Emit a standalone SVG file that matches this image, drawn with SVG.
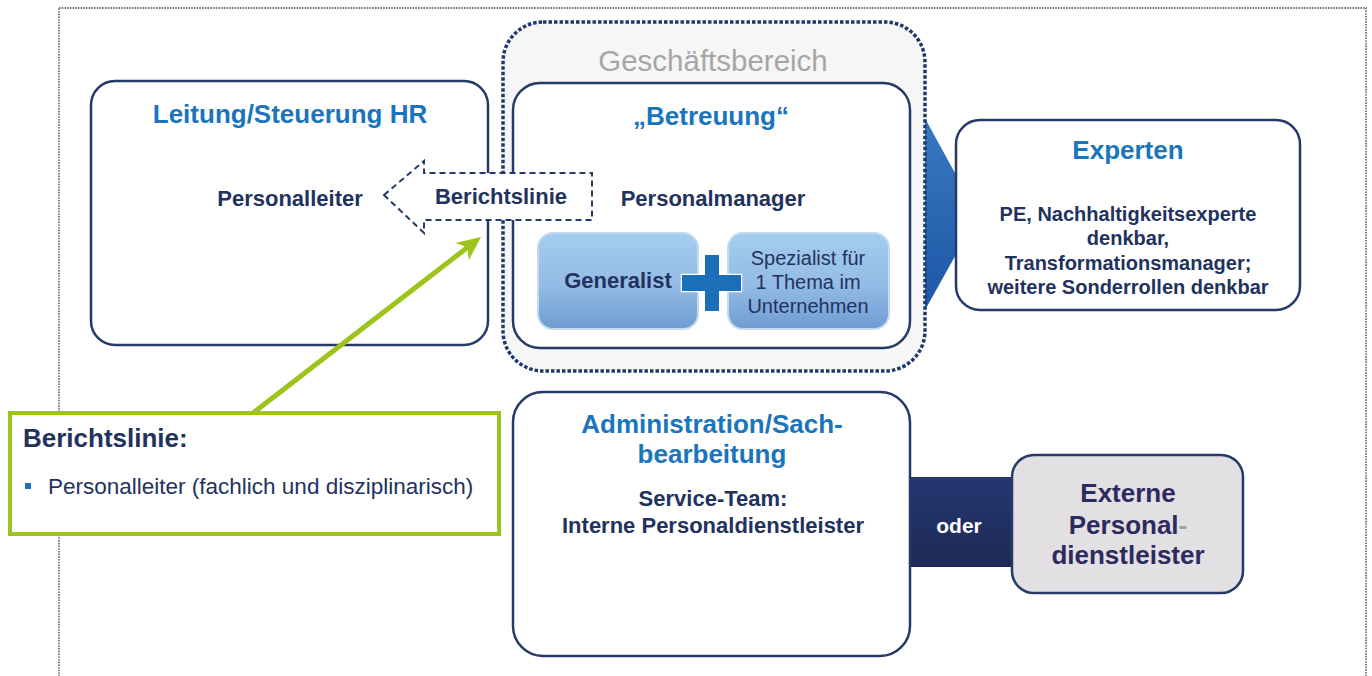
<svg xmlns="http://www.w3.org/2000/svg" width="1372" height="676" viewBox="0 0 1372 676">
  <defs>
    <linearGradient id="gradChevron" x1="0" y1="0" x2="0" y2="1">
      <stop offset="0" stop-color="#3d7bc4"/>
      <stop offset="1" stop-color="#1a53a3"/>
    </linearGradient>
    <linearGradient id="gradTile" x1="0" y1="0" x2="0" y2="1">
      <stop offset="0" stop-color="#a5cdee"/>
      <stop offset="0.55" stop-color="#93bbe6"/>
      <stop offset="1" stop-color="#6f9bd0"/>
    </linearGradient>
    <linearGradient id="gradBand" x1="0" y1="0" x2="0" y2="1">
      <stop offset="0" stop-color="#243771"/>
      <stop offset="1" stop-color="#1e2a55"/>
    </linearGradient>
    <style>
      text { font-family: "Liberation Sans", Arial, sans-serif; }
      .box { fill: #ffffff; stroke: #253a66; stroke-width: 2.5; }
      .title { font-size: 26px; font-weight: bold; fill: #1a75bd; text-anchor: middle; }
      .label { font-size: 22px; font-weight: bold; fill: #22325e; text-anchor: middle; }
      .body { font-size: 20px; font-weight: bold; fill: #22325e; text-anchor: middle; }
      .tile { fill: url(#gradTile); stroke: #c2dbf2; stroke-width: 2; }
    </style>
  </defs>

  <!-- outer frame -->
  <rect x="59" y="8" width="1307" height="700" fill="none" stroke="#7a7a7a" stroke-width="1.8" stroke-dasharray="1.6 1.1"/>

  <g id="connectors">
    <!-- chevron from the business unit to the experts -->
    <polygon points="915,100 978,215 915,328" fill="url(#gradChevron)"/>
    <!-- band linking administration and external providers -->
    <rect x="905" y="477" width="115" height="90" fill="url(#gradBand)"/>
    <text x="959" y="533" font-size="21" font-weight="bold" fill="#ffffff" text-anchor="middle">oder</text>
  </g>

  <g id="leitung">
    <rect class="box" x="91" y="81" width="397" height="264" rx="24"/>
    <text class="title" x="290" y="123">Leitung/Steuerung HR</text>
    <text class="label" x="290" y="206">Personalleiter</text>
  </g>

  <g id="geschaeftsbereich">
    <rect x="503" y="22" width="422" height="349" rx="40" fill="#f6f6f6" stroke="#1f3a6a" stroke-width="3.5" stroke-dasharray="3.5 2"/>
    <text x="713" y="71" font-size="29.5" fill="#a6a6a6" text-anchor="middle">Geschäftsbereich</text>
  </g>

  <g id="betreuung">
    <rect class="box" x="513" y="83" width="397" height="265" rx="27"/>
    <text class="title" x="711" y="125">„Betreuung“</text>
    <text class="label" x="713" y="206">Personalmanager</text>
  </g>

  <g id="generalist">
    <rect class="tile" x="538" y="233" width="160" height="96" rx="15"/>
    <text class="label" x="618" y="288">Generalist</text>
  </g>

  <g id="spezialist">
    <rect class="tile" x="728" y="233" width="161" height="96" rx="15"/>
    <text x="808" y="265" font-size="20" fill="#22325e" text-anchor="middle">Spezialist für</text>
    <text x="808" y="289" font-size="20" fill="#22325e" text-anchor="middle">1 Thema im</text>
    <text x="808" y="313" font-size="20" fill="#22325e" text-anchor="middle">Unternehmen</text>
  </g>

  <g id="plus">
    <path d="M705,255 H719 V275 H741 V291 H719 V311 H705 V291 H682 V275 H705 Z" fill="#1a6fb8" stroke="#ffffff" stroke-width="2.5" paint-order="stroke"/>
  </g>

  <g id="berichtslinie-pfeil">
    <polygon points="384,195 424,161 424,173 592,173 592,220 424,220 424,233" fill="#ffffff" stroke="#253a66" stroke-width="2" stroke-dasharray="6 4"/>
    <text class="label" x="501" y="204">Berichtslinie</text>
  </g>

  <g id="experten">
    <rect class="box" x="956" y="120" width="344" height="190" rx="24"/>
    <text class="title" x="1128" y="159">Experten</text>
    <text class="body" x="1128" y="221">PE, Nachhaltigkeitsexperte</text>
    <text class="body" x="1128" y="245">denkbar,</text>
    <text class="body" x="1128" y="270">Transformationsmanager;</text>
    <text class="body" x="1128" y="294">weitere Sonderrollen denkbar</text>
  </g>

  <g id="administration">
    <rect class="box" x="513" y="392" width="397" height="264" rx="30"/>
    <text class="title" x="712" y="433">Administration/Sach-</text>
    <text class="title" x="712" y="463">bearbeitung</text>
    <text class="label" x="713" y="506">Service-Team:</text>
    <text class="label" x="713" y="533">Interne Personaldienstleister</text>
  </g>

  <g id="externe">
    <rect x="1012" y="455" width="231" height="138" rx="22" fill="#e2e0e2" stroke="#253a66" stroke-width="2.5"/>
    <text x="1128" y="502" font-size="26" font-weight="bold" fill="#2d2a5f" text-anchor="middle">Externe</text>
    <text x="1128" y="534" font-size="26" font-weight="bold" fill="#2d2a5f" text-anchor="middle">Personal<tspan fill="#a0a0a0">-</tspan></text>
    <text x="1128" y="564" font-size="26" font-weight="bold" fill="#2d2a5f" text-anchor="middle">dienstleister</text>
  </g>

  <g id="hinweis-pfeil">
    <line x1="253" y1="413" x2="468" y2="247" stroke="#9dc41a" stroke-width="5"/>
    <polygon points="0,0 -24,-11 -17,0 -24,11" transform="translate(481,237) rotate(-37.6)" fill="#9dc41a"/>
  </g>

  <g id="hinweis">
    <rect x="10" y="413" width="489" height="121" fill="#ffffff" stroke="#9dc41a" stroke-width="4"/>
    <text x="23" y="447" font-size="26" font-weight="bold" fill="#22325e">Berichtslinie:</text>
    <rect x="25" y="483" width="6" height="6" fill="#1a6fb8"/>
    <text x="48" y="494" font-size="22.5" fill="#22325e">Personalleiter (fachlich und disziplinarisch)</text>
  </g>
</svg>
